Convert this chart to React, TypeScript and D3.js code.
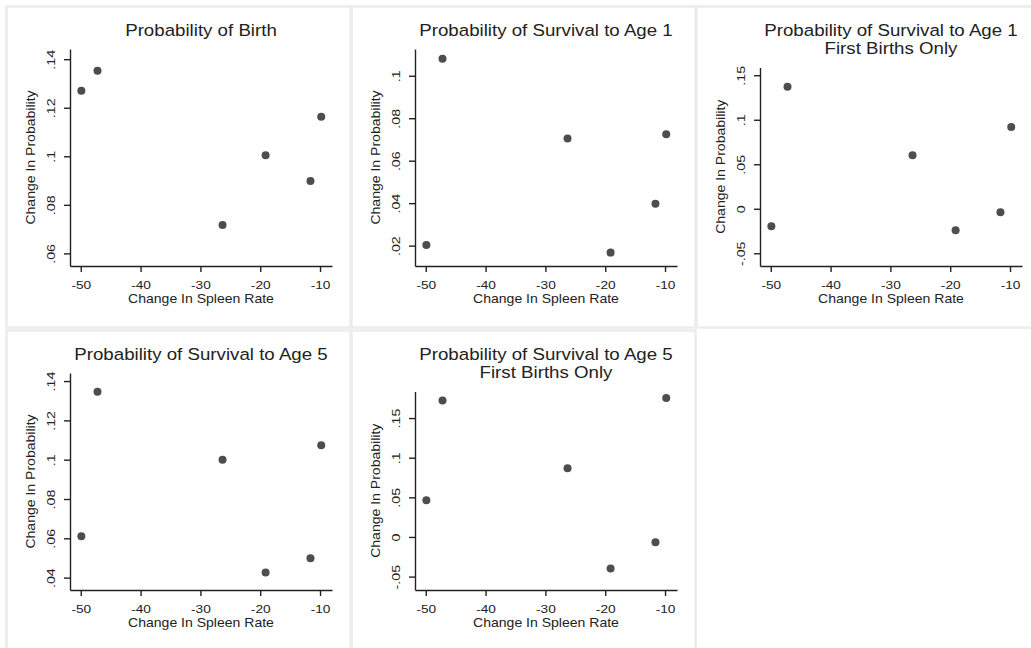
import { useEffect, useRef } from "react";
import * as d3 from "d3";

// change in spleen rate (x) shared by every panel
const spleenChange = [-49.9, -47.2, -26.3, -19.1, -11.6, -9.8];

// change in probability, one array per panel
const birthProb = [0.127, 0.1352, 0.0717, 0.1004, 0.0898, 0.1163];
const survAge1 = [0.0203, 0.108, 0.0704, 0.0167, 0.0397, 0.0725];
const survAge1First = [-0.0196, 0.1372, 0.0602, -0.0241, -0.0038, 0.0918];
const survAge5 = [0.061, 0.1345, 0.1, 0.0426, 0.0499, 0.1073];
const survAge5First = [0.0462, 0.1721, 0.0867, -0.0399, -0.0068, 0.1752];

const titles = [
  ["Probability of Birth"],
  ["Probability of Survival to Age 1"],
  ["Probability of Survival to Age 1", "First Births Only"],
  ["Probability of Survival to Age 5"],
  ["Probability of Survival to Age 5", "First Births Only"],
];
const series = [birthProb, survAge1, survAge1First, survAge5, survAge5First];

const xTicks = [-50, -40, -30, -20, -10];
const xDomain: [number, number] = [-51.8, -8.0];

const yTicksList = [
  [0.06, 0.08, 0.1, 0.12, 0.14],
  [0.02, 0.04, 0.06, 0.08, 0.1],
  [-0.05, 0, 0.05, 0.1, 0.15],
  [0.04, 0.06, 0.08, 0.1, 0.12, 0.14],
  [-0.05, 0, 0.05, 0.1, 0.15],
];
const yDomains: [number, number][] = [
  [0.0548, 0.1442],
  [0.0104, 0.1126],
  [-0.0643, 0.1587],
  [0.0337, 0.1441],
  [-0.0669, 0.1835],
];

const xLabel = "Change In Spleen Rate";
const yLabel = "Change In Probability";

const W = 1031;
const H = 648;
const FONT = "'Liberation Sans', Arial, Helvetica, sans-serif";
const INK = "#222";

// stata style: .05, -.05, 0
function stataFmt(v: number) {
  if (v === 0) return "0";
  let s = String(+v.toFixed(4));
  return s.replace(/^(-?)0\./, "$1.");
}

export default function App() {
  const ref = useRef<SVGSVGElement>(null);

  useEffect(() => {
    document.body.style.margin = "0";
    const svg = d3.select(ref.current);
    svg.selectAll("*").remove();

    svg.append("rect").attr("width", W).attr("height", H).attr("fill", "white");

    const colW = 345;
    const rowH = 324;
    const left = 70;
    const right = 332;
    const bottom = 266;

    series.forEach((vals, i) => {
      const col = i % 3;
      const row = Math.floor(i / 3);
      const g = svg
        .append("g")
        .attr("transform", `translate(${col * colW},${row * rowH})`);

      // panel frame
      g.append("rect")
        .attr("x", 6.5)
        .attr("y", 6.5)
        .attr("width", 344)
        .attr("height", 321)
        .attr("fill", "white")
        .attr("stroke", "#ececec")
        .attr("stroke-width", 2.5);

      const lines = titles[i];
      const top = lines.length > 1 ? 67.5 : 49;

      const x = d3.scaleLinear().domain(xDomain).range([left, right]);
      const y = d3.scaleLinear().domain(yDomains[i]).range([bottom, top]);

      // title
      lines.forEach((t, k) => {
        g.append("text")
          .attr("transform", `translate(${(left + right) / 2},${35.5 + k * 18}) scale(1.1,1)`)
          .attr("text-anchor", "middle")
          .style("font-family", FONT)
          .style("font-size", "17px")
          .style("fill", INK)
          .text(t);
      });

      // y axis
      const yAxis = g
        .append("g")
        .attr("transform", `translate(${left},0)`)
        .call(
          d3
            .axisLeft(y)
            .tickValues(yTicksList[i])
            .tickSize(6)
            .tickSizeOuter(0)
            .tickFormat((d) => stataFmt(+d))
        );
      yAxis
        .selectAll("text")
        .attr("x", null)
        .attr("dy", null)
        .attr("text-anchor", "middle")
        .attr("transform", "translate(-15,0) rotate(-90) scale(1.3,1)")
        .style("font-family", FONT)
        .style("font-size", "11px")
        .style("fill", INK);

      // x axis
      const xAxis = g
        .append("g")
        .attr("transform", `translate(0,${bottom})`)
        .call(
          d3
            .axisBottom(x)
            .tickValues(xTicks)
            .tickSize(6)
            .tickSizeOuter(0)
            .tickFormat((d) => String(d))
        );
      xAxis
        .selectAll("text")
        .attr("y", null)
        .attr("dy", null)
        .attr("transform", "translate(0,23) scale(1.28,1)")
        .style("font-family", FONT)
        .style("font-size", "10.7px")
        .style("fill", INK);

      [yAxis, xAxis].forEach((ax) => {
        ax.selectAll("path, line").attr("stroke", INK).attr("stroke-width", 1.4);
      });

      // axis titles
      g.append("text")
        .attr("transform", `translate(${(left + right) / 2},303) scale(1.17,1)`)
        .attr("text-anchor", "middle")
        .style("font-family", FONT)
        .style("font-size", "12px")
        .style("fill", INK)
        .text(xLabel);

      g.append("text")
        .attr("transform", `translate(35,${(top + bottom) / 2}) rotate(-90) scale(1.17,1)`)
        .attr("text-anchor", "middle")
        .style("font-family", FONT)
        .style("font-size", "12px")
        .style("fill", INK)
        .text(yLabel);

      // points
      g.selectAll("circle")
        .data(vals)
        .enter()
        .append("circle")
        .attr("cx", (_, j) => x(spleenChange[j]))
        .attr("cy", (d) => y(d))
        .attr("r", 4)
        .attr("fill", "#4d4d4d");
    });
  }, []);

  return <svg ref={ref} width={W} height={H} style={{ display: "block" }} />;
}
